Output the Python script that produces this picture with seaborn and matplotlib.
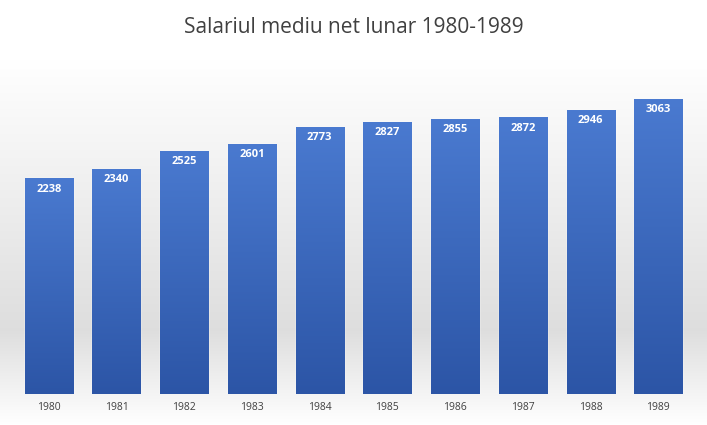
import numpy as np
import pandas as pd
import matplotlib
matplotlib.use('Agg')
import matplotlib.pyplot as plt
import seaborn as sns

years = ['1980', '1981', '1982', '1983', '1984', '1985', '1986', '1987', '1988', '1989']
salaries = [2238, 2340, 2525, 2601, 2773, 2827, 2855, 2872, 2946, 3063]

df = pd.DataFrame({'year': years, 'salary': salaries})

sns.set_style('white')
plt.rcParams['font.family'] = ['Open Sans', 'DejaVu Sans']

fig = plt.figure(figsize=(7.07, 4.25), dpi=100)

# background gradient (white top, light gray lower, white bottom)
bg = fig.add_axes([0, 0, 1, 1], zorder=-10)
g = np.concatenate([np.linspace(1.0, 1.0, 60), np.linspace(1.0, 0.87, 270), np.linspace(0.87, 1.0, 95)])
img = np.repeat(np.stack([g, g, g], axis=-1)[:, None, :], 2, axis=1)
bg.imshow(img, aspect='auto', extent=[0, 1, 0, 1])
bg.axis('off')

ax = fig.add_axes([0.021, 0.073, 0.958, 0.793])
ax.patch.set_alpha(0)
sns.barplot(data=df, x='year', y='salary', color='#3f6cc0', width=0.71, ax=ax)
ax.set_ylim(0, 3500)

# vertical gradient inside each bar
grad = np.linspace(0, 1, 256).reshape(-1, 1)
cmap = matplotlib.colors.LinearSegmentedColormap.from_list('b', ['#2c55a6', '#4a7ad0'])
for p in ax.patches:
    x0, w, h = p.get_x(), p.get_width(), p.get_height()
    im = ax.imshow(grad, cmap=cmap, aspect='auto', origin='lower',
                   extent=[x0, x0 + w, 0, h], zorder=2)
    im.set_clip_path(p)
    ax.text(x0 + w / 2, h - 110, str(int(h)), ha='center', va='center',
            color='white', fontsize=8, fontweight='bold', zorder=3)
ax.set_xlim(-0.5, len(years) - 0.5)

ax.set_xlabel('')
ax.set_ylabel('')
ax.set_yticks([])
ax.tick_params(axis='x', length=0, labelsize=7.5, colors='#404040', pad=6)
for s in ax.spines.values():
    s.set_visible(False)

fig.text(0.5, 0.935, 'Salariul mediu net lunar 1980-1989', ha='center', va='center',
         fontsize=15, color='#404040')

fig.savefig('out.png', dpi=100)
